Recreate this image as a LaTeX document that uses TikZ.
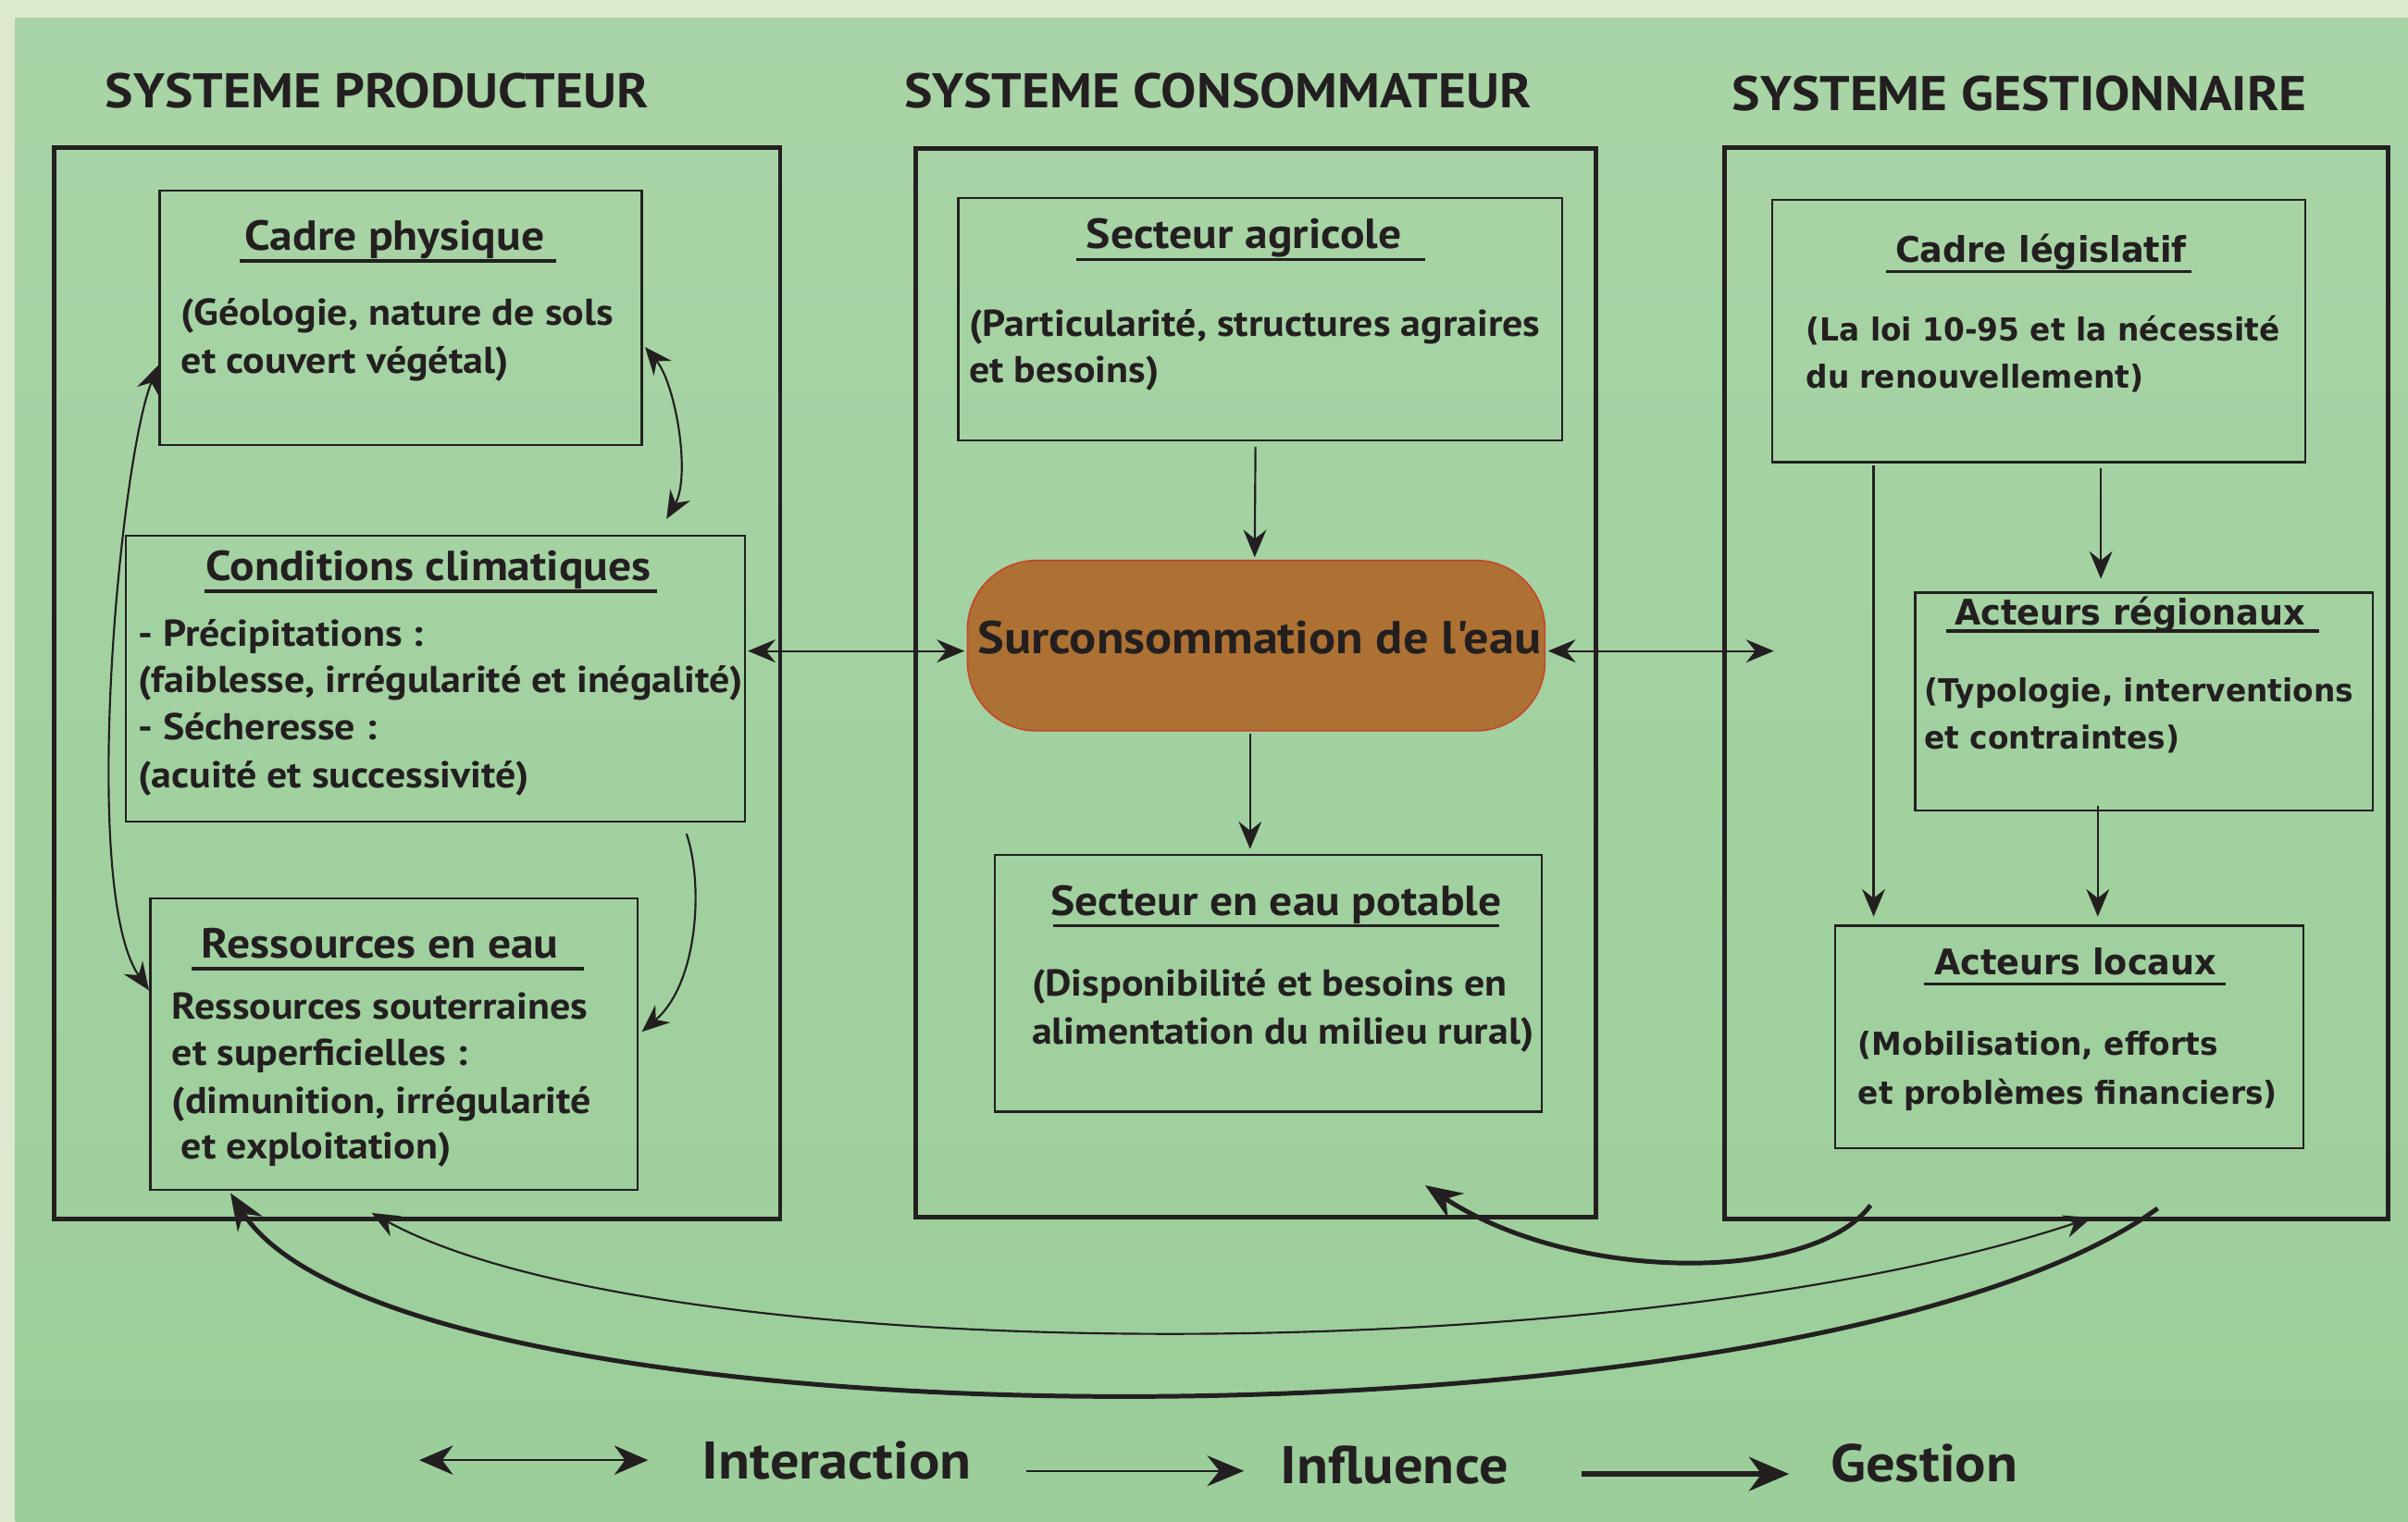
\documentclass[tikz,border=0pt]{standalone}
\usepackage{fontspec}
\newfontfamily\pfont[FakeStretch=1.09]{PT Sans}
\newfontfamily\rfont[FakeStretch=0.96]{DejaVu Sans}
\usetikzlibrary{arrows.meta,calc}
\definecolor{lightbg}{HTML}{DDE9CF}
\definecolor{greentop}{HTML}{A9D4A7}
\definecolor{greenbot}{HTML}{9BCE9A}
\definecolor{ink}{HTML}{231F20}
\definecolor{brownfill}{HTML}{AD7133}
\definecolor{brownedge}{HTML}{C4472E}
\begin{document}
\begin{tikzpicture}[x=1pt,y=-1pt,
  every node/.style={text=ink,inner sep=0pt,outer sep=0pt},
  box/.style={draw=ink,line width=1.4pt,rectangle},
  outerbox/.style={draw=ink,line width=3pt,rectangle},
  systitle/.style={anchor=base,font=\pfont\fontsize{31.7}{36}\selectfont\bfseries},
  btitle/.style={anchor=base,font=\pfont\fontsize{27.4}{31}\selectfont\bfseries},
  body/.style={anchor=base west,font=\pfont\fontsize{24.3}{28}\selectfont\bfseries},
  rbody/.style={anchor=base west,font=\rfont\fontsize{20.6}{24}\selectfont\bfseries},
  rtitle/.style={anchor=base,font=\rfont\fontsize{23}{27}\selectfont\bfseries},
  uline/.style={draw=ink,line width=2pt},
  tip/.style={},
  influ/.style={draw=ink,line width=1.3pt,-{Stealth[length=18pt,width=15pt,inset=6pt]}},
  inter/.style={draw=ink,line width=1.3pt,{Stealth[length=18pt,width=15pt,inset=6pt]}-{Stealth[length=18pt,width=15pt,inset=6pt]}},
  gest/.style={draw=ink,line width=3pt,-{Stealth[length=24pt,width=19pt,inset=8pt]}},
  legtext/.style={anchor=base,font=\pfont\fontsize{34.5}{38}\selectfont\bfseries}
]
\useasboundingbox (0,0) rectangle (1568,991);
% background
\fill[lightbg] (0,0) rectangle (1568,991);
\shade[top color=greentop,bottom color=greenbot] (10,12) rectangle (1568,991);

% system titles
\node[systitle] (t1) at (245.5,70) {SYSTEME PRODUCTEUR};
\node[systitle] (t2) at (793,70) {SYSTEME CONSOMMATEUR};
\node[systitle] (t3) at (1315,72) {SYSTEME GESTIONNAIRE};

% outer boxes
\node[outerbox,minimum width=473pt,minimum height=698pt] (P) at (271.5,445) {};
\node[outerbox,minimum width=443pt,minimum height=696pt] (C) at (817.5,445) {};
\node[outerbox,minimum width=432pt,minimum height=698pt] (G) at (1339,445) {};

% producer boxes
\node[box,minimum width=314pt,minimum height=166pt] (cp) at (261,207) {};
\node[box,minimum width=403pt,minimum height=186pt] (cc) at (283.5,442) {};
\node[box,minimum width=317pt,minimum height=190pt] (rs) at (256.5,680) {};

% consumer boxes
\node[box,minimum width=393pt,minimum height=158pt] (ag) at (820.5,208) {};
\node[draw=brownedge,fill=brownfill,line width=1pt,rounded corners=45pt,minimum width=376pt,minimum height=111pt] (sur) at (818,420.5) {};
\node[box,minimum width=356pt,minimum height=167pt] (pot) at (826,640.5) {};

% manager boxes
\node[box,minimum width=347pt,minimum height=171pt] (cl) at (1327.5,215.5) {};
\node[box,minimum width=298pt,minimum height=142pt] (ar) at (1396,457) {};
\node[box,minimum width=305pt,minimum height=145pt] (al) at (1347.5,675.5) {};

% --- producer texts
\node[btitle] (cpT) at (257,163) {Cadre physique};
\draw[uline] (156,170) -- (362,170);
\node[body] (cp1) at (118,212) {(Géologie, nature de sols};
\node[body] (cp2) at (118,243) {et couvert végétal)};

\node[btitle] (ccT) at (279,378) {Conditions climatiques};
\draw[uline] (133,385) -- (428,385);
\node[body] (cc1) at (90,421) {- Précipitations :};
\node[body] (cc2) at (90,451) {(faiblesse, irrégularité et inégalité)};
\node[body] (cc3) at (90,482) {- Sécheresse :};
\node[body] (cc4) at (90,513) {(acuité et successivité)};

\node[btitle] (rsT) at (247.5,624) {Ressources en eau};
\draw[uline] (125,631) -- (380,631);
\node[body] (rs1) at (112,664) {Ressources souterraines};
\node[body] (rs2) at (112,694) {et superficielles :};
\node[body] (rs3) at (112,725) {(dimunition, irrégularité};
\node[body] (rs4) at (118,755) {et exploitation)};

% --- consumer texts
\node[btitle] (agT) at (810,162) {Secteur agricole};
\draw[uline] (701,169) -- (928,169);
\node[body] (ag1) at (631,219) {(Particularité, structures agraires};
\node[body] (ag2) at (631,249) {et besoins)};

\node[anchor=base,font=\pfont\fontsize{30}{34}\selectfont\bfseries] (surT) at (820,426) {Surconsommation de l'eau};

\node[btitle] (potT) at (831,596) {Secteur en eau potable};
\draw[uline] (686,603) -- (976,603);
\node[body] (pot1) at (672,649) {(Disponibilité et besoins en};
\node[body] (pot2) at (672,680) {alimentation du milieu rural)};

% --- manager texts
\node[rtitle] (clT) at (1329,171) {Cadre législatif};
\draw[uline] (1228,177) -- (1427,177);
\node[rbody] (cl1) at (1176,222) {(La loi 10-95 et la nécessité};
\node[rbody] (cl2) at (1176,253) {du renouvellement)};

\node[rtitle] (arT) at (1387,407) {Acteurs régionaux};
\draw[uline] (1267,411) -- (1510,411);
\node[rbody] (ar1) at (1253,457) {(Typologie, interventions};
\node[rbody] (ar2) at (1253,488) {et contraintes)};

\node[rtitle] (alT) at (1351.5,635) {Acteurs locaux};
\draw[uline] (1253,641) -- (1449,641);
\node[rbody] (al1) at (1210,687) {(Mobilisation, efforts};
\node[rbody] (al2) at (1210,719) {et problèmes financiers)};

% --- influence arrows
\draw[influ] ($(ag.south)+(-3,4)$) -- ($(sur.north)+(-1,-2)$);
\draw[influ] ($(sur.south)+(-4,2)$) -- ($(pot.north)+(-12,-4)$);
\draw[influ] ($(cl.south)+(40.5,4)$) -- ($(ar.north)+(-28,-9)$);
\draw[influ] ($(ar.south)+(-30,-3)$) -- ($(al.north)+(18.5,-6)$);
\draw[influ] ($(cl.south west)+(66,2)$) -- ($(al.north west)+(25,-6)$);
\draw[influ] ($(cc.south east)+(-38,8)$) .. controls (458,575) and (455,640) .. ($(rs.east)+(3,-8)$);

% --- interaction arrows
\draw[inter] ($(cc.east)+(2,-18)$) -- ($(sur.west)+(-2,3.5)$);
\draw[inter] ($(sur.east)+(2,3.5)$) -- ($(G.west)+(32,-21)$);
\draw[inter] ($(cp.east)+(2,19)$) .. controls (440,250) and (450,310) .. ($(cc.north east)+(-51,-11)$);
\draw[inter] ($(cp.west)+(-1,31)$) .. controls (78,300) and (52,580) .. ($(rs.west)+(-1,-35)$);
\draw[inter] ($(rs.south)+(-14.5,15)$) .. controls (430,893) and (1062,893) .. ($(G.south)+(23,-1)$);

% --- management arrows
\draw[gest] ($(G.south east)+(-150,-7)$) .. controls (1180,950) and (260,950) .. ($(rs.south west)+(52,2)$);
\draw[gest] ($(G.south west)+(95,-9)$) .. controls (1180,836) and (1025,836) .. ($(C.south east)+(-111,-21)$);

% --- legend
\coordinate (la1) at (273,951);
\coordinate (la2) at (422,951);
\coordinate (lb1) at (668,958);
\coordinate (lb2) at (810,958);
\coordinate (lc1) at (1030,960);
\coordinate (lc2) at (1165,960);
\draw[inter,{Stealth[length=22pt,width=19pt,inset=7pt]}-{Stealth[length=22pt,width=19pt,inset=7pt]}] (la1) -- (la2);
\draw[influ,-{Stealth[length=24pt,width=20pt,inset=8pt]}] (lb1) -- (lb2);
\draw[gest,line width=4pt,-{Stealth[length=26pt,width=22pt,inset=8pt]}] (lc1) -- (lc2);
\node[legtext] (lgA) at (545,963) {Interaction};
\node[legtext] (lgB) at (908,966) {Influence};
\node[legtext] (lgC) at (1253,965) {Gestion};
\end{tikzpicture}
\end{document}
